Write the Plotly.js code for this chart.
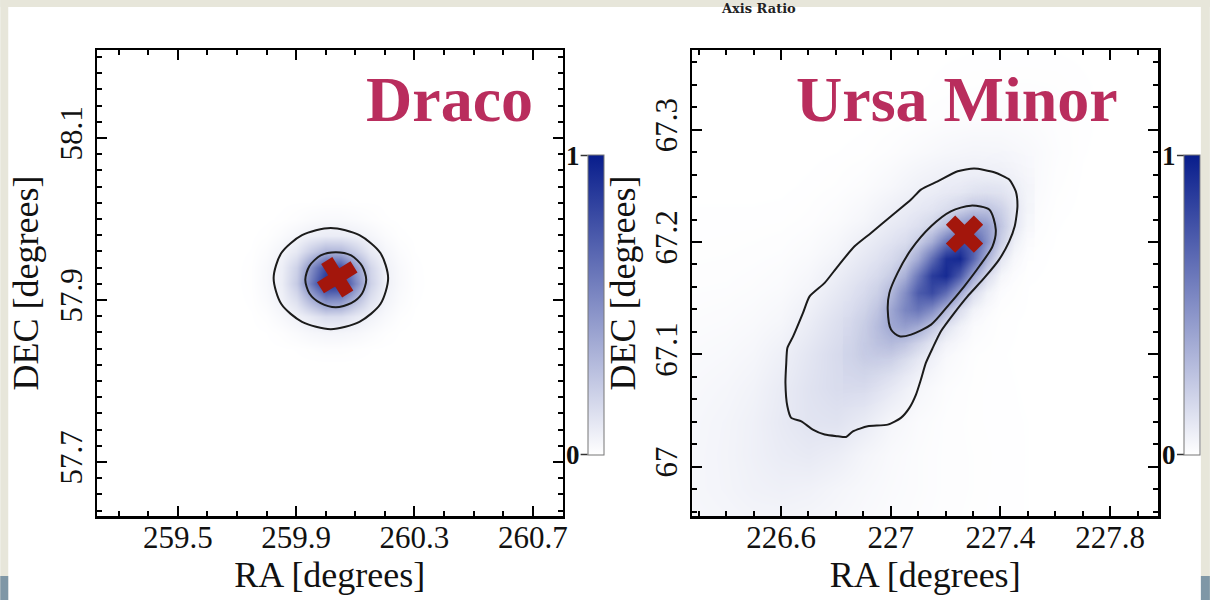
<!DOCTYPE html>
<html>
<head>
<meta charset="utf-8">
<script src="https://cdn.plot.ly/plotly-3.0.1.min.js"></script>
<style>html,body{margin:0;padding:0;background:#fff;}#chart{width:1213px;height:600px;}</style>
</head>
<body>
<div id="chart"></div>
<script>
// ---------------- DATA ----------------
const DRACO_NAME = "Draco";
const UMI_NAME = "Ursa Minor";

// Draco smoothed density (normalised 0..1), rows = DEC, cols = RA
const DRACO_RA = [259.70,259.75,259.80,259.85,259.90,259.95,260.00,260.05,260.10,260.15,260.20,260.25,260.30,260.35];
const DRACO_DEC = [57.80,57.82,57.84,57.86,57.88,57.90,57.92,57.94,57.96,57.98,58.00,58.02,58.04];
const DRACO_DENSITY = [
  [0,0,0,0,0,0,0,0,0,0,0,0,0,0],
  [0,0,0,0,0,0,0.0004,0.0004,0,0,0,0,0,0],
  [0,0,0,0.001,0.0025,0.006,0.009,0.009,0.006,0.0023,0.0008,0,0,0],
  [0,0,0.0018,0.0085,0.022,0.037,0.045,0.044,0.035,0.02,0.0075,0.0015,0,0],
  [0,0.0013,0.009,0.031,0.059,0.10,0.15,0.145,0.095,0.055,0.028,0.0075,0.001,0],
  [0.0002,0.0035,0.022,0.058,0.14,0.32,0.50,0.48,0.29,0.125,0.052,0.019,0.003,0],
  [0.0004,0.006,0.03,0.075,0.23,0.57,0.92,0.90,0.52,0.20,0.068,0.027,0.005,0.0003],
  [0.0003,0.0055,0.028,0.071,0.20,0.48,0.79,0.77,0.44,0.18,0.063,0.025,0.004,0.0002],
  [0,0.0025,0.017,0.046,0.10,0.22,0.33,0.32,0.21,0.09,0.042,0.014,0.002,0],
  [0,0.0006,0.005,0.02,0.042,0.066,0.082,0.081,0.063,0.04,0.018,0.004,0.0004,0],
  [0,0,0.0007,0.0035,0.011,0.021,0.027,0.027,0.02,0.011,0.003,0.0005,0,0],
  [0,0,0,0.0005,0.0015,0.002,0.003,0.003,0.002,0.0015,0.0005,0,0,0],
  [0,0,0,0,0,0,0,0,0,0,0,0,0,0]
];
const DRACO_INNER_RA  = [260.137,260.123,260.086,260.034,259.983,259.945,259.931,259.945,259.983,260.034,260.086,260.123,260.137];
const DRACO_INNER_DEC = [57.925,57.942,57.955,57.959,57.955,57.942,57.925,57.908,57.896,57.891,57.896,57.908,57.925];
const DRACO_OUTER_RA  = [260.211,260.185,260.114,260.017,259.920,259.850,259.824,259.850,259.920,260.017,260.114,260.185,260.211];
const DRACO_OUTER_DEC = [57.927,57.958,57.980,57.989,57.980,57.958,57.927,57.895,57.873,57.864,57.873,57.895,57.927];
const DRACO_CENTER_RA = [260.039];
const DRACO_CENTER_DEC = [57.928];

// Ursa Minor: extended (faint) density on a coarse grid
const UMI_RA = [226.3,226.4,226.5,226.6,226.7,226.8,226.9,227.0,227.1,227.2,227.3,227.4,227.5,227.6,227.7,227.8,227.9];
const UMI_DEC = [66.95,66.98,67.01,67.04,67.07,67.10,67.13,67.16,67.19,67.22,67.25,67.28,67.31,67.34,67.37];
const UMI_DENSITY = [
  [0.035,0.040,0.045,0.045,0.040,0.033,0.025,0.018,0.012,0.008,0.005,0.003,0.002,0.001,0,0,0],
  [0.040,0.048,0.060,0.066,0.060,0.045,0.032,0.022,0.015,0.009,0.006,0.003,0.002,0.001,0,0,0],
  [0.040,0.050,0.066,0.085,0.095,0.078,0.046,0.026,0.015,0.009,0.006,0.0035,0.002,0.001,0.0005,0,0],
  [0.038,0.048,0.065,0.095,0.120,0.125,0.090,0.042,0.019,0.009,0.005,0.003,0.002,0.001,0,0,0],
  [0.032,0.040,0.055,0.088,0.125,0.155,0.150,0.098,0.038,0.013,0.005,0.003,0.0015,0.001,0,0,0],
  [0.024,0.029,0.040,0.068,0.112,0.160,0.190,0.170,0.095,0.030,0.007,0.0025,0.001,0.0006,0,0,0],
  [0.016,0.019,0.026,0.040,0.080,0.135,0.185,0.210,0.170,0.082,0.022,0.004,0.001,0,0,0,0],
  [0.010,0.011,0.015,0.022,0.043,0.092,0.148,0.195,0.205,0.145,0.060,0.013,0.002,0,0,0,0],
  [0.005,0.006,0.008,0.011,0.021,0.045,0.093,0.143,0.175,0.168,0.105,0.034,0.006,0.001,0,0,0],
  [0.003,0.003,0.003,0.004,0.008,0.019,0.041,0.082,0.118,0.133,0.115,0.060,0.018,0.003,0,0,0],
  [0.001,0.001,0.001,0.001,0.003,0.007,0.016,0.034,0.062,0.082,0.085,0.064,0.028,0.008,0.001,0,0],
  [0.0006,0.0006,0.0006,0.0006,0.0006,0.002,0.004,0.012,0.024,0.036,0.044,0.041,0.028,0.012,0.0025,0,0],
  [0,0,0,0,0,0,0.001,0.003,0.0065,0.012,0.016,0.018,0.015,0.009,0.0035,0,0],
  [0,0,0,0,0,0,0,0,0.001,0.004,0.006,0.007,0.007,0.006,0.003,0,0],
  [0,0,0,0,0,0,0,0,0,0.001,0.002,0.002,0.002,0.002,0.001,0,0]
];
// Ursa Minor: dense core on a fine grid
const UMI_CORE_RA = [226.85,226.90,226.95,227.00,227.05,227.10,227.15,227.20,227.25,227.30,227.35,227.40,227.45,227.50];
const UMI_CORE_DEC = [67.050,67.065,67.080,67.095,67.110,67.125,67.140,67.155,67.170,67.185,67.200,67.215,67.230,67.245,67.260,67.275,67.290];
const UMI_CORE = [
  [0.001,0.001,0,0,0,0,0,0,0,0,0,0,0,0],
  [0.005,0.005,0.004,0.002,0.0005,0,0,0,0,0,0,0,0,0],
  [0.012,0.0175,0.017,0.011,0.005,0.0015,0,0,0,0,0,0,0,0],
  [0.018,0.037,0.052,0.049,0.031,0.013,0.004,0.001,0,0,0,0,0,0],
  [0.016,0.048,0.097,0.129,0.116,0.069,0.028,0.0075,0.0013,0,0,0,0,0],
  [0.009,0.038,0.11,0.209,0.269,0.231,0.133,0.051,0.013,0.002,0,0,0,0],
  [0.003,0.019,0.078,0.211,0.384,0.469,0.384,0.21,0.077,0.019,0.003,0,0,0],
  [0.0007,0.006,0.034,0.13,0.339,0.588,0.686,0.534,0.28,0.098,0.023,0.0035,0,0],
  [0,0.001,0.009,0.049,0.183,0.453,0.755,0.841,0.625,0.311,0.101,0.021,0.003,0],
  [0,0,0.0015,0.0115,0.061,0.215,0.514,0.813,0.853,0.585,0.26,0.075,0.014,0.002],
  [0,0,0,0.0016,0.013,0.063,0.213,0.471,0.681,0.642,0.393,0.157,0.041,0.007],
  [0,0,0,0,0.0016,0.011,0.053,0.161,0.319,0.412,0.346,0.189,0.068,0.016],
  [0,0,0,0,0,0.001,0.008,0.032,0.087,0.154,0.178,0.135,0.066,0.021],
  [0,0,0,0,0,0,0,0.004,0.014,0.034,0.054,0.056,0.038,0.017],
  [0,0,0,0,0,0,0,0,0,0.004,0.009,0.014,0.013,0.008],
  [0,0,0,0,0,0,0,0,0,0,0.002,0.003,0.003,0.002],
  [0,0,0,0,0,0,0,0,0,0,0,0,0,0]
];
const UMI_INNER_RA  = [227.292,227.359,227.383,227.371,227.323,227.268,227.207,227.147,227.074,227.032,227.001,226.989,226.995,227.025,227.074,227.147,227.219,227.292];
const UMI_INNER_DEC = [67.2324,67.2289,67.2110,67.1962,67.1784,67.1606,67.1427,67.1264,67.1175,67.1160,67.1220,67.1398,67.1547,67.1725,67.1932,67.2140,67.2273,67.2324];
const UMI_OUTER_RA  = [227.304,227.377,227.432,227.456,227.462,227.452,227.432,227.395,227.341,227.280,227.232,227.183,227.153,227.128,227.110,227.092,227.068,227.037,226.989,226.916,226.862,226.837,226.807,226.759,226.716,226.674,226.637,226.623,226.616,226.619,226.623,226.644,226.680,226.704,226.759,226.807,226.868,226.928,227.001,227.074,227.110,227.171,227.244,227.304];
const UMI_OUTER_DEC = [67.2654,67.2621,67.2556,67.2451,67.2318,67.2140,67.2006,67.1843,67.1680,67.1516,67.1369,67.1205,67.1057,67.0923,67.0775,67.0641,67.0523,67.0434,67.0374,67.0359,67.0314,67.0264,67.0270,67.0285,67.0329,67.0403,67.0434,67.0537,67.0745,67.0923,67.1057,67.1160,67.1369,67.1516,67.1636,67.1784,67.1962,67.2081,67.2229,67.2378,67.2467,67.2540,67.2630,67.2654];
const UMI_CENTER_RA = [227.269];
const UMI_CENTER_DEC = [67.207];

// ticks
const X1_TICKS = [259.5,259.9,260.3,260.7];
const X1_LABELS = ["259.5","259.9","260.3","260.7"];
const Y1_TICKS = [57.7,57.9,58.1];
const Y1_LABELS = ["57.7","57.9","58.1"];
const X2_TICKS = [226.6,227.0,227.4,227.8];
const X2_LABELS = ["226.6","227","227.4","227.8"];
const Y2_TICKS = [67.0,67.1,67.2,67.3];
const Y2_LABELS = ["67","67.1","67.2","67.3"];
const CBAR_LABELS = ["0","1"];

// ---------------- STYLE ----------------
const SERIF = "Liberation Serif, Times New Roman, serif";
const NAVY = "#081d8c";
const CMAP = [[0,"#ffffff"],[1,NAVY]];
const CMAP_ALPHA = [[0,"rgba(8,29,140,0)"],[1,"rgba(8,29,140,1)"]];
const XRED = "#a3160c";
const TITLE_RED = "#b92d5d";

const W = 1213, H = 600;
const M = {l:97, r:52, t:50, b:84};
const PW = W - M.l - M.r, PH = H - M.t - M.b;
const px = x => (x - M.l) / PW;
const py = y => (H - M.b - y) / PH;

function cbar(xpix){
  return {x: px(xpix), xanchor:"left", xpad:0, y: py(455), yanchor:"bottom", ypad:0,
          len: 300/PH, lenmode:"fraction", thickness:16, thicknessmode:"pixels",
          outlinewidth:1, outlinecolor:"#777", showticklabels:false, ticks:""};
}

const contourLine = {color:"#1b1b1b", width:2, shape:"spline", smoothing:0.8};

const traces = [
  {type:"heatmap", x:DRACO_RA, y:DRACO_DEC, z:DRACO_DENSITY, colorscale:CMAP, zmin:0, zmax:1,
   zsmooth:"best", xaxis:"x", yaxis:"y", colorbar:cbar(589), hoverinfo:"skip"},
  {type:"scatter", mode:"lines", x:DRACO_OUTER_RA, y:DRACO_OUTER_DEC, line:contourLine, xaxis:"x", yaxis:"y", showlegend:false},
  {type:"scatter", mode:"lines", x:DRACO_INNER_RA, y:DRACO_INNER_DEC, line:contourLine, xaxis:"x", yaxis:"y", showlegend:false},
  {type:"scatter", mode:"markers", x:DRACO_CENTER_RA, y:DRACO_CENTER_DEC, xaxis:"x", yaxis:"y", showlegend:false,
   marker:{symbol:"x", size:33, color:XRED, angle:13, line:{width:0}}},

  {type:"heatmap", x:UMI_RA, y:UMI_DEC, z:UMI_DENSITY, colorscale:CMAP, zmin:0, zmax:1,
   zsmooth:"best", xaxis:"x2", yaxis:"y2", colorbar:cbar(1187), hoverinfo:"skip"},
  {type:"heatmap", x:UMI_CORE_RA, y:UMI_CORE_DEC, z:UMI_CORE, colorscale:CMAP_ALPHA, zmin:0, zmax:0.9,
   zsmooth:"best", xaxis:"x2", yaxis:"y2", showscale:false, hoverinfo:"skip"},
  {type:"scatter", mode:"lines", x:UMI_OUTER_RA, y:UMI_OUTER_DEC, line:Object.assign({}, contourLine, {smoothing:0.6}), xaxis:"x2", yaxis:"y2", showlegend:false},
  {type:"scatter", mode:"lines", x:UMI_INNER_RA, y:UMI_INNER_DEC, line:contourLine, xaxis:"x2", yaxis:"y2", showlegend:false},
  {type:"scatter", mode:"markers", x:UMI_CENTER_RA, y:UMI_CENTER_DEC, xaxis:"x2", yaxis:"y2", showlegend:false,
   marker:{symbol:"x", size:33, color:XRED, line:{width:0}}}
];

function axisBase(){
  return {showline:true, linecolor:"#000", linewidth:2.5, mirror:"allticks", ticks:"inside",
          ticklen:10, tickwidth:2, tickcolor:"#000", showgrid:false, zeroline:false, automargin:false,
          tickfont:{family:SERIF, size:31, color:"#111"}};
}

const xaxis = Object.assign(axisBase(), {domain:[0, px(564)], range:[259.227, 260.801], anchor:"y",
  tickmode:"array", tickvals:X1_TICKS, ticktext:X1_LABELS, ticklabelstandoff:-8,
  minor:{dtick:0.1, tick0:259.5, ticks:"inside", ticklen:5, tickwidth:2, tickcolor:"#000", showgrid:false},
  title:{text:"RA [degrees]", font:{family:SERIF, size:36, color:"#111"}, standoff:4}});
const yaxis = Object.assign(axisBase(), {domain:[0,1], range:[57.6333, 58.2086], anchor:"x",
  tickmode:"array", tickvals:Y1_TICKS, ticktext:Y1_LABELS, tickangle:-90,
  minor:{dtick:0.02, tick0:57.7, ticks:"inside", ticklen:5, tickwidth:2, tickcolor:"#000", showgrid:false},
  title:{text:"DEC [degrees]", font:{family:SERIF, size:36, color:"#111"}, standoff:5}});
const xaxis2 = Object.assign(axisBase(), {domain:[px(694), 1], range:[226.2764, 227.9745], anchor:"y2",
  tickmode:"array", tickvals:X2_TICKS, ticktext:X2_LABELS, ticklabelstandoff:-8,
  minor:{dtick:0.1, tick0:226.6, ticks:"inside", ticklen:5, tickwidth:2, tickcolor:"#000", showgrid:false},
  title:{text:"RA [degrees]", font:{family:SERIF, size:36, color:"#111"}, standoff:4}});
const yaxis2 = Object.assign(axisBase(), {domain:[0,1], range:[66.956, 67.371], anchor:"x2",
  tickmode:"array", tickvals:Y2_TICKS, ticktext:Y2_LABELS, tickangle:-90,
  minor:{dtick:0.02, tick0:67.0, ticks:"inside", ticklen:5, tickwidth:2, tickcolor:"#000", showgrid:false},
  title:{text:"DEC [degrees]", font:{family:SERIF, size:36, color:"#111"}, standoff:3}});

const BEIGE = "#e7e6da";
const shapes = [
  {type:"rect", xref:"paper", yref:"paper", x0:px(0), x1:px(8), y0:py(600), y1:py(0), fillcolor:BEIGE, line:{width:0}, layer:"below"},
  {type:"rect", xref:"paper", yref:"paper", x0:px(0), x1:px(1213), y0:py(7), y1:py(0), fillcolor:BEIGE, line:{width:0}, layer:"below"},
  {type:"rect", xref:"paper", yref:"paper", x0:px(1204), x1:px(1213), y0:py(600), y1:py(0), fillcolor:BEIGE, line:{width:0}, layer:"below"},
  {type:"rect", xref:"paper", yref:"paper", x0:px(0), x1:px(8), y0:py(600), y1:py(576), fillcolor:"#7f97a6", line:{width:0}, layer:"below"},
  {type:"rect", xref:"paper", yref:"paper", x0:px(1204), x1:px(1213), y0:py(600), y1:py(576), fillcolor:"#7f97a6", line:{width:0}, layer:"below"},
  {type:"line", xref:"paper", yref:"paper", x0:px(582), x1:px(589), y0:py(155.5), y1:py(155.5), line:{color:"#333", width:1.5}},
  {type:"line", xref:"paper", yref:"paper", x0:px(582), x1:px(589), y0:py(454.5), y1:py(454.5), line:{color:"#333", width:1.5}},
  {type:"line", xref:"paper", yref:"paper", x0:px(1180), x1:px(1187), y0:py(155.5), y1:py(155.5), line:{color:"#333", width:1.5}},
  {type:"line", xref:"paper", yref:"paper", x0:px(1180), x1:px(1187), y0:py(454.5), y1:py(454.5), line:{color:"#333", width:1.5}}
];

const cbFont = {family:SERIF, size:27, color:"#111"};
const annotations = [
  {text:"<b>"+DRACO_NAME+"</b>", xref:"paper", yref:"paper", x:px(536), y:py(100), xanchor:"right", yanchor:"middle",
   showarrow:false, font:{family:SERIF, size:64, color:TITLE_RED}},
  {text:"<b>"+UMI_NAME+"</b>", xref:"paper", yref:"paper", x:px(1123), y:py(100), xanchor:"right", yanchor:"middle",
   showarrow:false, font:{family:SERIF, size:64, color:TITLE_RED}},
  {text:"<b>"+CBAR_LABELS[1]+"</b>", xref:"paper", yref:"paper", x:px(583), y:py(156), xanchor:"right", yanchor:"middle", showarrow:false, font:cbFont},
  {text:"<b>"+CBAR_LABELS[0]+"</b>", xref:"paper", yref:"paper", x:px(583), y:py(455), xanchor:"right", yanchor:"middle", showarrow:false, font:cbFont},
  {text:"<b>"+CBAR_LABELS[1]+"</b>", xref:"paper", yref:"paper", x:px(1181), y:py(156), xanchor:"right", yanchor:"middle", showarrow:false, font:cbFont},
  {text:"<b>"+CBAR_LABELS[0]+"</b>", xref:"paper", yref:"paper", x:px(1181), y:py(455), xanchor:"right", yanchor:"middle", showarrow:false, font:cbFont},
  {text:"<b>Axis Ratio</b>", xref:"paper", yref:"paper", x:px(760), y:py(0), xanchor:"center", yanchor:"top", showarrow:false,
   borderpad:0, font:{family:"DejaVu Serif, serif", size:13, color:"#222"}}
];

const layout = {
  width:W, height:H, margin:M, paper_bgcolor:"#ffffff", plot_bgcolor:"#ffffff",
  showlegend:false, xaxis, yaxis, xaxis2, yaxis2, shapes, annotations,
  font:{family:SERIF}
};

Plotly.newPlot("chart", traces, layout, {staticPlot:true, displayModeBar:false});
</script>
</body>
</html>
